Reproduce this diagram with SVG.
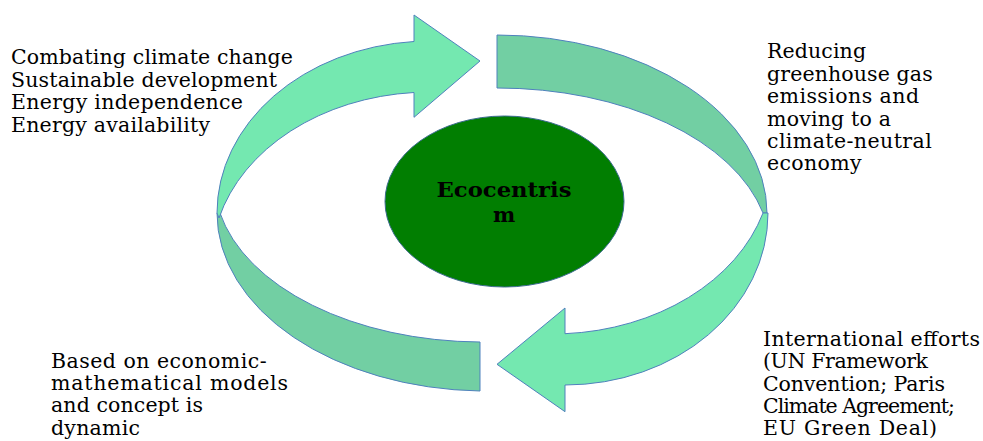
<svg xmlns="http://www.w3.org/2000/svg" width="983" height="441" viewBox="0 0 983 441">
<style>
.band{fill:#72CFA3;stroke:#4F81BD;stroke-width:1}
.arrow{fill:#74E8B0;stroke:#4F81BD;stroke-width:1}
.lbl{font-family:"DejaVu Serif","Liberation Serif",serif;font-size:20.5px;fill:#000}
.ctr{font-family:"DejaVu Serif","Liberation Serif",serif;font-size:21px;font-weight:bold;fill:#000;text-anchor:middle}
</style>
<rect width="983" height="441" fill="#fff"/>
<g id="connectors">
<path class="band" d="M 497 35 A 270 178 0 0 1 767 213 L 763 213 A 273 162 0 0 0 497 88 Z"/>
<path class="band" d="M 480 342 A 268 162 0 0 1 220 213 L 217 213 A 270 178 0 0 0 480 391 Z"/>
<path class="arrow" d="M 217 213 A 213 172 0 0 1 414 41.5 L 414 15 L 480 61 L 414 117.3 L 414 92.5 A 218 170 0 0 0 219 218 Z"/>
<path class="arrow" d="M 768 213 A 203 172 0 0 1 565 385 L 565 411.7 L 497 364.3 L 565 308 L 565 333.7 A 220 170 0 0 0 763 213 Z"/>
</g>
<g id="ecocentrism">
<ellipse cx="504.5" cy="201.5" rx="119.5" ry="85.5" fill="#017E01" stroke="#3B6B8F" stroke-width="1"/>
<text class="ctr" x="504" y="196.7" textLength="135" lengthAdjust="spacingAndGlyphs">Ecocentris</text>
<text class="ctr" x="504" y="221.7">m</text>
</g>
<g id="goals">
<text class="lbl" x="11" y="64" textLength="282">Combating climate change</text>
<text class="lbl" x="11" y="86.7" textLength="266">Sustainable development</text>
<text class="lbl" x="11" y="109.4" textLength="232">Energy independence</text>
<text class="lbl" x="11" y="132.1" textLength="199">Energy availability</text>
</g>
<g id="reducing">
<text class="lbl" x="767" y="58.3" textLength="99">Reducing</text>
<text class="lbl" x="767" y="80.7" textLength="165.7">greenhouse gas</text>
<text class="lbl" x="767" y="103.1" textLength="152">emissions and</text>
<text class="lbl" x="767" y="125.5" textLength="124">moving to a</text>
<text class="lbl" x="767" y="147.9" textLength="164.7">climate-neutral</text>
<text class="lbl" x="767" y="170.3" textLength="94.7">economy</text>
</g>
<g id="international">
<text class="lbl" x="763" y="345.5" textLength="217">International efforts</text>
<text class="lbl" x="763" y="368" textLength="165">(UN Framework</text>
<text class="lbl" x="763" y="390.5" textLength="182">Convention; Paris</text>
<text class="lbl" x="763" y="413" textLength="192">Climate Agreement;</text>
<text class="lbl" x="763" y="435.3" textLength="174">EU Green Deal)</text>
</g>
<g id="models">
<text class="lbl" x="51" y="367.7" textLength="215.7">Based on economic-</text>
<text class="lbl" x="51" y="390" textLength="237">mathematical models</text>
<text class="lbl" x="51" y="412.3" textLength="152">and concept is</text>
<text class="lbl" x="51" y="435" textLength="89">dynamic</text>
</g>
</svg>
